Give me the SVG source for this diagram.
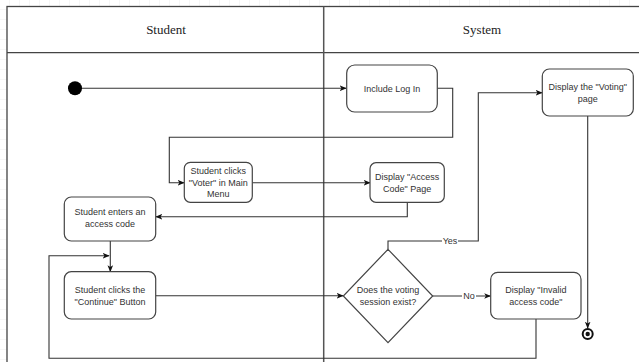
<svg xmlns="http://www.w3.org/2000/svg" width="639" height="362" viewBox="0 0 639 362">
<defs>
<pattern id="grid" width="10" height="10" patternUnits="userSpaceOnUse"><path d="M10 0V10M0 10H10" fill="none" stroke="#ececec" stroke-width="1"/></pattern>
<marker id="arr" viewBox="0 0 10 10" refX="9" refY="5" markerWidth="7" markerHeight="7" orient="auto" markerUnits="userSpaceOnUse"><path d="M0 1L10 5L0 9L2.5 5Z" fill="#111"/></marker>
<style>
.lane{fill:#fff;stroke:#444;stroke-width:1.3}
.hdr{font-family:"Liberation Serif","Times New Roman",serif;font-size:13px;fill:#222;text-anchor:middle}
.box{fill:#fff;stroke:#444;stroke-width:1.2}
.t{font-family:"Liberation Sans",Arial,sans-serif;font-size:9px;fill:#333;text-anchor:middle}
.c{fill:none;stroke:#333;stroke-width:1.1}
.lbl{font-family:"Liberation Sans",Arial,sans-serif;font-size:9px;fill:#333;text-anchor:middle;dominant-baseline:middle}
</style>
</defs>
<rect width="639" height="362" fill="#fff"/>
<rect width="639" height="362" fill="url(#grid)"/>
<g id="lanes">
<rect class="lane" x="7" y="6.5" width="640" height="370"/>
<line x1="7" y1="52.7" x2="639" y2="52.7" stroke="#444" stroke-width="1.3"/>
<line x1="323.7" y1="6.5" x2="323.7" y2="362" stroke="#555" stroke-width="1.5"/>
<text class="hdr" x="166" y="34">Student</text>
<text class="hdr" x="482" y="34">System</text>
</g>
<g id="connectors">
<path class="c" d="M82 88.3H346" marker-end="url(#arr)"/>
<path class="c" d="M437.3 88.3H452.7V137.3H169.3V182.7H184" marker-end="url(#arr)"/>
<path class="c" d="M252.3 182.7H370" marker-end="url(#arr)"/>
<path class="c" d="M407.3 202.3V216.7H156" marker-end="url(#arr)"/>
<path class="c" d="M110.3 241V271.5" marker-end="url(#arr)"/>
<path class="c" d="M536 319V358.3H49V255.7H109" marker-end="url(#arr)"/>
<path class="c" d="M155.7 295.7H343" marker-end="url(#arr)"/>
<path class="c" d="M432.7 296H490.5" marker-end="url(#arr)"/>
<path class="c" d="M388 249.3V241H478.3V92.7H542" marker-end="url(#arr)"/>
<path class="c" d="M587.7 116V328" marker-end="url(#arr)"/>
<rect x="442" y="236" width="16" height="10" fill="#fff"/>
<text class="lbl" x="450" y="241.5">Yes</text>
<rect x="462" y="291" width="14" height="10" fill="#fff"/>
<text class="lbl" x="469" y="296.5">No</text>
</g>
<g id="start"><circle cx="75" cy="88.3" r="7" fill="#000"/></g>
<g id="includeLogIn">
<rect class="box" x="346.7" y="65" width="90.6" height="47" rx="8"/>
<text class="t" x="392" y="91.5">Include Log In</text>
</g>
<g id="clicksVoter">
<rect class="box" x="184.3" y="162.3" width="68" height="40" rx="6"/>
<text class="t" x="218.3" y="174">Student clicks</text>
<text class="t" x="218.3" y="185.5">"Voter" in Main</text>
<text class="t" x="218.3" y="197">Menu</text>
</g>
<g id="accessCodePage">
<rect class="box" x="370" y="162.7" width="74.3" height="39.6" rx="6"/>
<text class="t" x="407.2" y="180">Display "Access</text>
<text class="t" x="407.2" y="191.5">Code" Page</text>
</g>
<g id="entersCode">
<rect class="box" x="64.3" y="197" width="91.4" height="44" rx="7"/>
<text class="t" x="110" y="215">Student enters an</text>
<text class="t" x="110" y="227">access code</text>
</g>
<g id="clicksContinue">
<rect class="box" x="64.3" y="271.7" width="91.4" height="47.3" rx="7"/>
<text class="t" x="110" y="293">Student clicks the</text>
<text class="t" x="110" y="305">"Continue" Button</text>
</g>
<g id="decision">
<polygon class="box" points="388,249.3 432.7,296 388,342.7 343.3,296"/>
<text class="t" x="388" y="293">Does the voting</text>
<text class="t" x="388" y="305">session exist?</text>
</g>
<g id="invalidCode">
<rect class="box" x="490.7" y="272.3" width="90.3" height="46.7" rx="7"/>
<text class="t" x="535.8" y="293">Display "Invalid</text>
<text class="t" x="535.8" y="305">access code"</text>
</g>
<g id="votingPage">
<rect class="box" x="542.3" y="69" width="91" height="47" rx="7"/>
<text class="t" x="587.8" y="90">Display the "Voting"</text>
<text class="t" x="587.8" y="102">page</text>
</g>
<g id="end">
<circle cx="587.7" cy="334" r="5" fill="#fff" stroke="#111" stroke-width="2"/>
<circle cx="587.7" cy="334" r="2.2" fill="#111"/>
</g>
</svg>
